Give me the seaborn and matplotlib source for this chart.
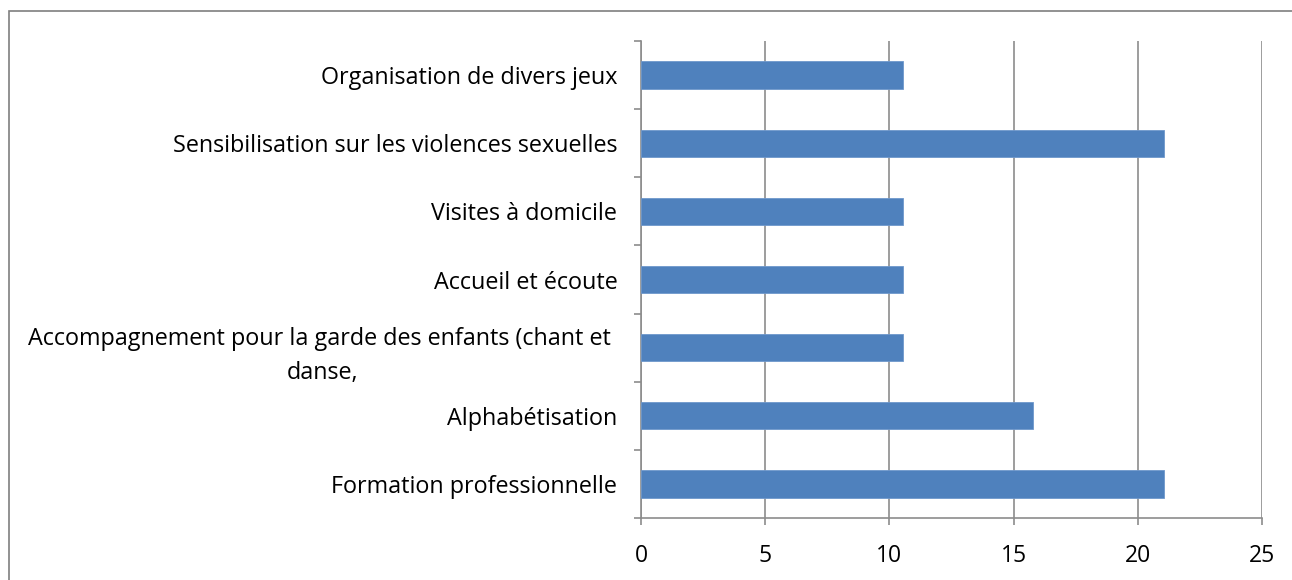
import matplotlib
matplotlib.use('Agg')
import matplotlib.pyplot as plt
import matplotlib.patches as mpatches
import pandas as pd
import seaborn as sns

# Données (du haut vers le bas)
activites = [
    'Organisation de divers jeux',
    'Sensibilisation sur les violences sexuelles',
    'Visites à domicile',
    'Accueil et écoute',
    'Accompagnement pour la garde des enfants (chant et \ndanse,',
    'Alphabétisation',
    'Formation professionnelle',
]
pourcentages = [10.53, 21.05, 10.53, 10.53, 10.53, 15.79, 21.05]
x_ticks = [0, 5, 10, 15, 20, 25]

df = pd.DataFrame({'activite': activites, 'valeur': pourcentages})

sns.set_style('white')
plt.rcParams['font.family'] = ['Open Sans', 'DejaVu Sans']
plt.rcParams['text.color'] = 'black'
plt.rcParams['xtick.labelcolor'] = 'black'
plt.rcParams['ytick.labelcolor'] = 'black'

fig = plt.figure(figsize=(12.92, 5.80), dpi=100)
ax = fig.add_axes([0.4961, 0.1069, 0.4807, 0.8224])

sns.barplot(data=df, x='valeur', y='activite', orient='h', color='#4F81BD',
            saturation=1, width=0.4, edgecolor='#6F98CC', linewidth=0.6, ax=ax, zorder=3)

grid_col = '#8C8C8C'
ax.set_xlim(0, 25)
ax.set_ylim(len(activites) - 0.5, -0.5)
ax.set_xticks(x_ticks)
ax.set_xticklabels([str(t) for t in x_ticks], fontsize=16.5)
ax.xaxis.grid(True, color=grid_col, linewidth=1.2, zorder=0)
ax.set_axisbelow(True)

# libellés des catégories sans marque, marques aux limites
ax.set_yticks(range(len(activites)))
ax.set_yticklabels(activites, fontsize=16.8, multialignment='center', linespacing=1.55)
ax.tick_params(axis='y', which='major', left=True, length=0, pad=17)
ax.set_yticks([i - 0.5 for i in range(len(activites) + 1)], minor=True)
ax.tick_params(axis='y', which='minor', left=True, length=5, width=1.2, color=grid_col)
ax.tick_params(axis='x', which='major', bottom=True, length=5, width=1.2,
               color=grid_col, pad=14)

ax.set_xlabel('')
ax.set_ylabel('')
for side in ['top', 'right']:
    ax.spines[side].set_visible(False)
for side in ['left', 'bottom']:
    ax.spines[side].set_color(grid_col)
    ax.spines[side].set_linewidth(1.2)

# cadre extérieur de la zone du graphique
fig.patches.append(mpatches.Rectangle((9 / 1292, -0.1), 1.2, 1.1 - 11 / 580,
                                      transform=fig.transFigure, fill=False,
                                      edgecolor='#7F7F7F', linewidth=1.2))

fig.savefig('out.png', dpi=100)
